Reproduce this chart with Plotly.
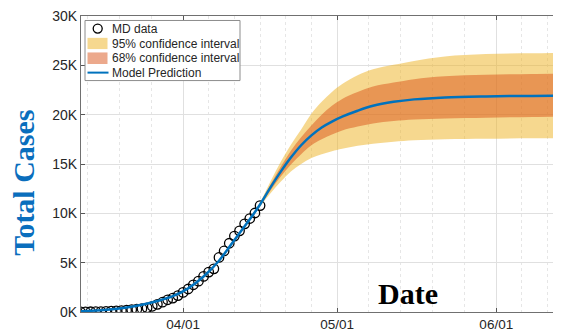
import plotly.graph_objects as go

# ---------------- data ----------------
data_dates = ["2020-03-12", "2020-03-13", "2020-03-14", "2020-03-15", "2020-03-16", "2020-03-17",
              "2020-03-18", "2020-03-19", "2020-03-20", "2020-03-21", "2020-03-22", "2020-03-23",
              "2020-03-24", "2020-03-25", "2020-03-26", "2020-03-27", "2020-03-28", "2020-03-29",
              "2020-03-30", "2020-03-31", "2020-04-01", "2020-04-02", "2020-04-03", "2020-04-04",
              "2020-04-05", "2020-04-06", "2020-04-07", "2020-04-08", "2020-04-09", "2020-04-10",
              "2020-04-11", "2020-04-12", "2020-04-13", "2020-04-14", "2020-04-15", "2020-04-16"]
md_cases = [12, 17, 26, 31, 37, 57, 85, 107, 149, 190, 244, 288, 349, 423, 580, 774, 992, 1239,
            1413, 1660, 1985, 2331, 2758, 3125, 3609, 4045, 4371, 5529, 6185, 6968, 7694, 8225,
            8936, 9472, 10032, 10784]

model_dates = ["2020-03-12", "2020-03-16", "2020-03-20", "2020-03-24", "2020-03-27", "2020-03-30",
               "2020-04-02", "2020-04-05", "2020-04-08", "2020-04-11", "2020-04-14", "2020-04-16",
               "2020-04-18", "2020-04-20", "2020-04-22", "2020-04-24", "2020-04-26", "2020-04-28",
               "2020-04-30", "2020-05-02", "2020-05-05", "2020-05-08", "2020-05-12", "2020-05-16",
               "2020-05-22", "2020-05-30", "2020-06-08", "2020-06-16"]
model_pred = [80, 180, 380, 740, 1120, 1600, 2400, 3600, 5200, 7300, 9400, 10900,
              12600, 14200, 15650, 16900, 17900, 18700, 19300, 19800, 20400, 20900, 21300, 21550,
              21750, 21850, 21900, 21920]

band_dates = ["2020-04-14", "2020-04-16", "2020-04-18", "2020-04-20", "2020-04-22", "2020-04-24",
              "2020-04-26", "2020-04-28", "2020-04-30", "2020-05-02", "2020-05-05", "2020-05-08",
              "2020-05-12", "2020-05-16", "2020-05-22", "2020-05-30", "2020-06-08", "2020-06-16"]
ci95_upper = [9400, 11100, 13200, 15200, 16950, 18500, 20100, 21300, 22300, 23100, 24000, 24600,
              25050, 25450, 25900, 26150, 26220, 26270]
ci95_lower = [9400, 10700, 12000, 13200, 14250, 15000, 15600, 16000, 16300, 16550, 16850, 17050,
              17250, 17400, 17500, 17550, 17600, 17620]
ci68_upper = [9400, 11000, 12900, 14700, 16350, 17700, 18900, 20000, 20900, 21600, 22300, 22850,
              23250, 23600, 23900, 24050, 24120, 24160]
ci68_lower = [9400, 10800, 12300, 13700, 14950, 16000, 16900, 17500, 18000, 18400, 18800, 19100,
              19350, 19500, 19620, 19700, 19760, 19800]

y_tickvals = [0, 5000, 10000, 15000, 20000, 25000, 30000]
y_ticktext = ["0K", "5K", "10K", "15K", "20K", "25K", "30K"]
x_tickvals = ["2020-04-01", "2020-05-01", "2020-06-01"]
x_ticktext = ["04/01", "05/01", "06/01"]
x_minor = ["2020-03-13 09:36", "2020-03-19 14:24", "2020-03-25 19:12",
           "2020-04-06", "2020-04-11", "2020-04-16", "2020-04-21", "2020-04-26",
           "2020-05-07 04:48", "2020-05-13 09:36", "2020-05-19 14:24", "2020-05-25 19:12",
           "2020-06-06", "2020-06-11"]

legend_labels = ["MD data", "95% confidence interval", "68% confidence interval", "Model Prediction"]

# ---------------- styles ----------------
C95 = "rgba(237,177,32,0.5)"
C68 = "rgba(217,83,25,0.5)"
BLUE = "#0072BD"
TXT = "#262626"
SANS = "Liberation Sans, Arial, sans-serif"
SERIF = "Liberation Serif, Times New Roman, serif"

fig = go.Figure()

fig.add_trace(go.Scatter(x=data_dates, y=md_cases, mode="markers", name=legend_labels[0],
                         marker=dict(symbol="circle-open", size=9.5, color="black",
                                     line=dict(width=1.3, color="black")),
                         showlegend=False))
fig.add_trace(go.Scatter(x=band_dates, y=ci95_lower, mode="lines", line=dict(width=0, shape="spline"),
                         showlegend=False, hoverinfo="skip"))
fig.add_trace(go.Scatter(x=band_dates, y=ci95_upper, mode="lines", line=dict(width=0, shape="spline"),
                         fill="tonexty", fillcolor=C95, name=legend_labels[1], showlegend=False))
fig.add_trace(go.Scatter(x=band_dates, y=ci68_lower, mode="lines", line=dict(width=0, shape="spline"),
                         showlegend=False, hoverinfo="skip"))
fig.add_trace(go.Scatter(x=band_dates, y=ci68_upper, mode="lines", line=dict(width=0, shape="spline"),
                         fill="tonexty", fillcolor=C68, name=legend_labels[2], showlegend=False))
fig.add_trace(go.Scatter(x=model_dates, y=model_pred, mode="lines", name=legend_labels[3],
                         line=dict(color=BLUE, width=2.5, shape="spline"), showlegend=False))

# ---------------- layout geometry ----------------
# page body adds an 8px offset; the plot area is placed at screen x 81..569, y 14..312
OFF = 8
W, H = 561, 334
SX0, SX1, SY0, SY1 = 81, 569, 14, 312
ML, MR = SX0 - OFF, (OFF + W) - SX1
MT, MB = SY0 - OFF, (OFF + H) - SY1
PW, PH = SX1 - SX0, SY1 - SY0


def px(x):
    return (x - SX0) / PW


def py(y):
    return 1 - (y - SY0) / PH


shapes = []
shapes.append(dict(type="rect", xref="paper", yref="paper", x0=px(85), x1=px(240), y0=py(79), y1=py(18.5),
                   fillcolor="white", line=dict(color="#8c8c8c", width=1), layer="above"))
shapes.append(dict(type="circle", xref="paper", yref="paper", x0=px(93.2), x1=px(102.2), y0=py(31.2), y1=py(22.2),
                   fillcolor="rgba(0,0,0,0)", line=dict(color="black", width=1.3), layer="above"))
shapes.append(dict(type="rect", xref="paper", yref="paper", x0=px(87.5), x1=px(107.5), y0=py(47.3), y1=py(36),
                   fillcolor=C95, line=dict(width=0), layer="above"))
shapes.append(dict(type="rect", xref="paper", yref="paper", x0=px(87.5), x1=px(107.5), y0=py(62.3), y1=py(50.7),
                   fillcolor=C68, line=dict(width=0), layer="above"))
shapes.append(dict(type="line", xref="paper", yref="paper", x0=px(87.5), x1=px(108.5), y0=py(71), y1=py(71),
                   line=dict(color=BLUE, width=2), layer="above"))

annotations = []
for lbl, yy in zip(legend_labels, [26.7, 41.7, 56.5, 71]):
    annotations.append(dict(text=lbl, xref="paper", yref="paper", x=px(110), y=py(yy),
                            xanchor="left", yanchor="middle", showarrow=False,
                            font=dict(family=SANS, size=12, color=TXT)))

annotations.append(dict(text="<b>Total Cases</b>", xref="paper", yref="paper", x=px(24), y=py(182),
                        xanchor="center", yanchor="middle", textangle=-90, showarrow=False,
                        font=dict(family=SERIF, size=30, color="#0A6EBD")))
annotations.append(dict(text="<b>Date</b>", xref="paper", yref="paper", x=px(408.3), y=py(293),
                        xanchor="center", yanchor="middle", showarrow=False,
                        font=dict(family=SERIF, size=30, color="black")))

# x range: left edge ~ Mar 12 03:00, 5.135 px per day over the 488 px plot width
fig.update_layout(
    width=W, height=H,
    margin=dict(l=ML, r=MR, t=MT, b=MB, pad=0),
    paper_bgcolor="white", plot_bgcolor="white",
    showlegend=False,
    shapes=shapes, annotations=annotations,
    xaxis=dict(type="date", range=["2020-03-12 03:00", "2020-06-15 04:00"],
               tickmode="array", tickvals=x_tickvals, ticktext=x_ticktext,
               ticks="inside", ticklen=4, tickcolor="#555", tickwidth=1,
               showline=True, linecolor="#707070", linewidth=1, mirror="ticks",
               showgrid=True, gridcolor="#E0E0E0", gridwidth=1,
               minor=dict(tickmode="array", tickvals=x_minor, showgrid=True,
                          gridcolor="#E6E6E6", griddash="dot", gridwidth=1, ticks=""),
               ticklabeloverflow="allow",
               tickfont=dict(family=SANS, size=13.5, color=TXT), zeroline=False),
    yaxis=dict(range=[0, 30000], tickmode="array", tickvals=y_tickvals, ticktext=y_ticktext,
               ticks="inside", ticklen=4, tickcolor="#555", tickwidth=1,
               showline=True, linecolor="#707070", linewidth=1, mirror=False,
               showgrid=True, gridcolor="#E0E0E0", gridwidth=1, zeroline=False,
               ticklabeloverflow="allow",
               tickfont=dict(family=SANS, size=14, color=TXT)),
)

fig.write_html("out.html")
